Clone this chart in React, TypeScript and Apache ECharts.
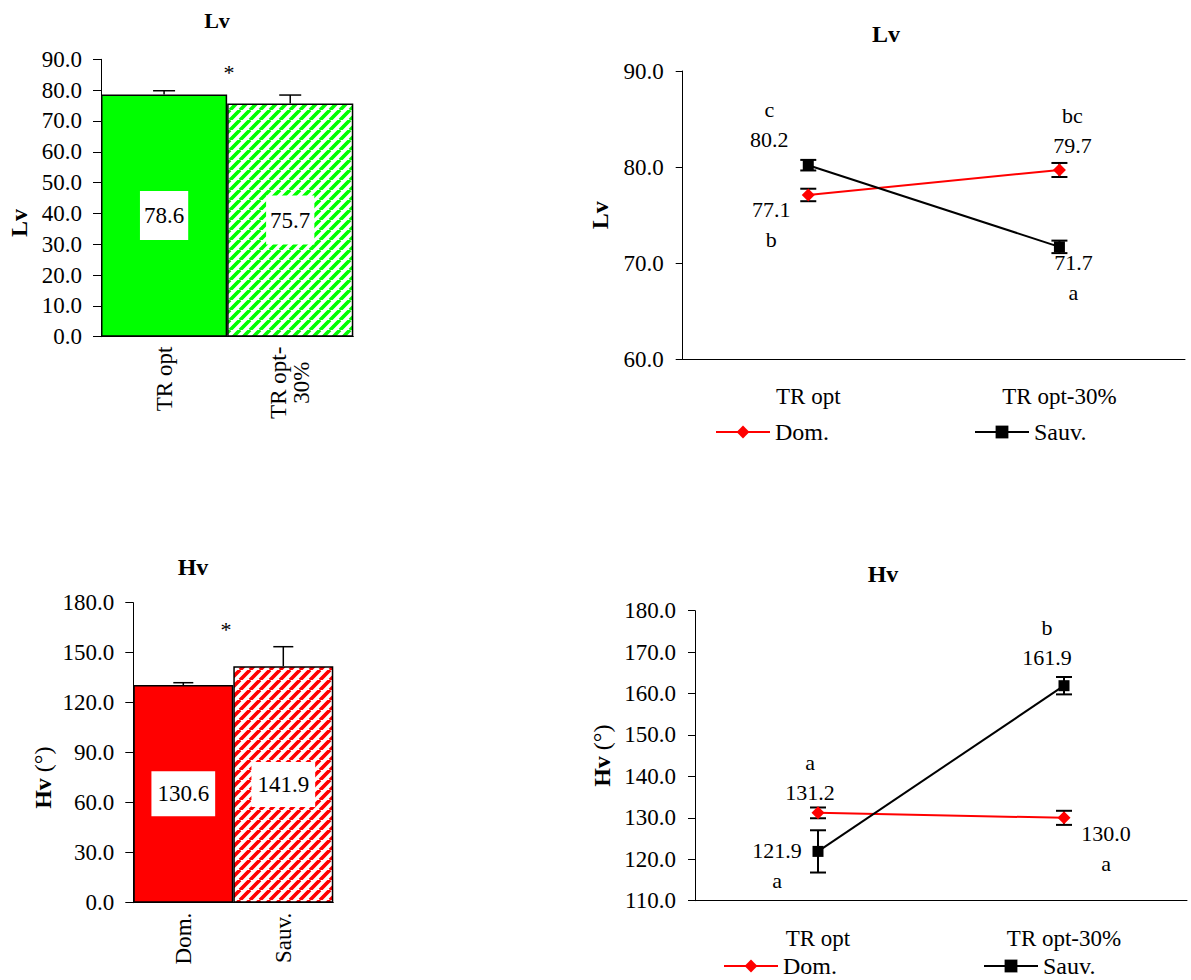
import React, { useEffect, useRef } from 'react';
import * as echarts from 'echarts';

// ---------- data ----------
const lvBarCategories = ['TR opt', 'TR opt-30%'];
const lvBarValues = [78.6, 75.7];
const lvBarErrors = [1.2, 2.7];

const hvBarCategories = ['Dom.', 'Sauv.'];
const hvBarValues = [130.6, 141.9];
const hvBarErrors = [1.4, 11.7];

const lineCategories = ['TR opt', 'TR opt-30%'];
const seriesNames = ['Dom.', 'Sauv.'];

const lvDom = [77.1, 79.7];
const lvDomErr = [0.65, 0.73];
const lvDomLetters = ['b', 'bc'];
const lvSauv = [80.2, 71.7];
const lvSauvErr = [0.55, 0.65];
const lvSauvLetters = ['c', 'a'];

const hvDom = [131.2, 130.0];
const hvDomErr = [1.3, 1.7];
const hvDomLetters = ['a', 'a'];
const hvSauv = [121.9, 161.9];
const hvSauvErr = [5.1, 2.1];
const hvSauvLetters = ['a', 'b'];

// ---------- styling ----------
const FONT = '"Liberation Serif", "Times New Roman", serif';
const GREEN = '#00ff00';
const RED = '#ff0000';

// label placement (offset from the point, letter above or below the value)
const lvDomLabel = [{ off: [-37, 30], above: false }, { off: [13, -39], above: true }];
const lvSauvLabel = [{ off: [-39, -41], above: true }, { off: [14, 31], above: false }];
const hvDomLabel = [{ off: [-8, -35], above: true }, { off: [42, 31], above: false }];
const hvSauvLabel = [{ off: [-41, 14], above: false }, { off: [-17, -43], above: true }];

// diagonal "/" stripes drawn on a small tile
function stripePattern(color: string) {
  const s = 10;
  const c = document.createElement('canvas');
  c.width = s;
  c.height = s;
  const ctx = c.getContext('2d') as CanvasRenderingContext2D;
  ctx.fillStyle = '#ffffff';
  ctx.fillRect(0, 0, s, s);
  ctx.strokeStyle = color;
  ctx.lineWidth = 3.7;
  ctx.beginPath();
  for (const o of [-s, 0, s]) {
    ctx.moveTo(o, s);
    ctx.lineTo(o + s, 0);
  }
  ctx.stroke();
  return { image: c, repeat: 'repeat' };
}

function barErrorSeries(name: string, axis: number, values: number[], errs: number[], cap: number) {
  return {
    type: 'custom',
    name,
    xAxisIndex: axis,
    yAxisIndex: axis,
    z: 5,
    silent: true,
    data: values.map((v, i) => [i, v, errs[i]]),
    renderItem: (params: any, api: any) => {
      const i = api.value(0);
      const v = api.value(1);
      const e = api.value(2);
      const base = api.coord([i, v]);
      const top = api.coord([i, v + e]);
      const hw = cap / 2;
      const st = { stroke: '#000', lineWidth: 1.5 };
      return {
        type: 'group',
        children: [
          { type: 'line', shape: { x1: top[0], y1: base[1], x2: top[0], y2: top[1] }, style: st },
          { type: 'line', shape: { x1: top[0] - hw, y1: top[1], x2: top[0] + hw, y2: top[1] }, style: st },
        ],
      };
    },
  };
}

function lineErrorSeries(name: string, axis: number, values: number[], errs: number[]) {
  return {
    type: 'custom',
    name,
    xAxisIndex: axis,
    yAxisIndex: axis,
    z: 2,
    silent: true,
    data: values.map((v, i) => [i, v, errs[i]]),
    renderItem: (params: any, api: any) => {
      const i = api.value(0);
      const v = api.value(1);
      const e = api.value(2);
      const hi = api.coord([i, v + e]);
      const lo = api.coord([i, v - e]);
      const hw = 8;
      const st = { stroke: '#000', lineWidth: 2 };
      return {
        type: 'group',
        children: [
          { type: 'line', shape: { x1: hi[0], y1: hi[1], x2: lo[0], y2: lo[1] }, style: st },
          { type: 'line', shape: { x1: hi[0] - hw, y1: hi[1], x2: hi[0] + hw, y2: hi[1] }, style: st },
          { type: 'line', shape: { x1: lo[0] - hw, y1: lo[1], x2: lo[0] + hw, y2: lo[1] }, style: st },
        ],
      };
    },
  };
}

function lineSeries(
  name: string,
  axis: number,
  values: number[],
  letters: string[],
  labels: { off: number[]; above: boolean }[],
  color: string,
  symbol: string,
  symbolSize: number
) {
  return {
    type: 'line',
    name,
    xAxisIndex: axis,
    yAxisIndex: axis,
    z: 3,
    symbol,
    symbolSize,
    lineStyle: { color, width: 2 },
    itemStyle: { color },
    data: values.map((v, i) => ({
      value: v,
      label: {
        show: true,
        position: 'inside',
        offset: labels[i].off,
        formatter: labels[i].above ? `${letters[i]}\n${v.toFixed(1)}` : `${v.toFixed(1)}\n${letters[i]}`,
      },
    })),
    label: {
      show: true,
      color: '#000',
      fontFamily: FONT,
      fontSize: 22,
      lineHeight: 30,
      align: 'center',
      verticalAlign: 'middle',
    },
  };
}

const axisLineStyle = { lineStyle: { color: '#000', width: 1 } };
const tickLabel = (size: number) => ({
  color: '#000',
  fontFamily: FONT,
  fontSize: size,
  margin: 19,
  formatter: (v: number) => v.toFixed(1),
});

export default function App() {
  const ref = useRef<HTMLDivElement>(null);

  useEffect(() => {
    document.body.style.margin = '0';
    if (!ref.current) return;
    const chart = echarts.init(ref.current, undefined, { renderer: 'svg' });
    const greenStripes = stripePattern(GREEN);
    const redStripes = stripePattern(RED);

    const option: any = {
      animation: false,
      backgroundColor: '#fff',
      title: [
        { text: 'Lv', left: 217, top: 9, textAlign: 'center', padding: 0, textStyle: { fontFamily: FONT, fontSize: 22, fontWeight: 'bold', color: '#000' } },
        { text: 'Lv', left: 886, top: 22, textAlign: 'center', padding: 0, textStyle: { fontFamily: FONT, fontSize: 24, fontWeight: 'bold', color: '#000' } },
        { text: 'Hv', left: 193, top: 555, textAlign: 'center', padding: 0, textStyle: { fontFamily: FONT, fontSize: 24, fontWeight: 'bold', color: '#000' } },
        { text: 'Hv', left: 883, top: 562, textAlign: 'center', padding: 0, textStyle: { fontFamily: FONT, fontSize: 24, fontWeight: 'bold', color: '#000' } },
      ],
      legend: [
        { data: [seriesNames[0]], left: 715, top: 420 },
        { data: [seriesNames[1]], left: 974, top: 420 },
        { data: [seriesNames[0]], left: 723, top: 954 },
        { data: [seriesNames[1]], left: 983, top: 954 },
      ].map((l) => ({
        ...l,
        padding: 0,
        itemWidth: 54,
        itemHeight: 16,
        selectedMode: false,
        textStyle: { fontFamily: FONT, fontSize: 24, color: '#000' },
      })),
      grid: [
        { left: 101, top: 59.3, width: 252.3, height: 277.4 },
        { left: 682.7, top: 71, width: 502.3, height: 288.3 },
        { left: 133.3, top: 602.7, width: 200, height: 300 },
        { left: 695, top: 610.7, width: 492, height: 290 },
      ],
      xAxis: [
        {
          type: 'category', gridIndex: 0, data: lvBarCategories,
          axisLine: axisLineStyle, axisTick: { length: 8, lineStyle: { color: '#000' } },
          axisLabel: {
            rotate: 90, margin: 10, color: '#000', fontFamily: FONT, fontSize: 23, interval: 0,
            formatter: (v: string) => (v.indexOf('-') >= 0 ? v.replace('-', '-\n') : v).split('\n').map((s) => `{c|${s}}`).join('\n'),
            rich: { c: { align: 'center', fontFamily: FONT, fontSize: 23, color: '#000' } },
          },
        },
        {
          type: 'category', gridIndex: 1, data: lineCategories,
          axisLine: axisLineStyle, axisTick: { length: 7, lineStyle: { color: '#000' } },
          axisLabel: { margin: 26, color: '#000', fontFamily: FONT, fontSize: 23, interval: 0 },
        },
        {
          type: 'category', gridIndex: 2, data: hvBarCategories,
          axisLine: axisLineStyle, axisTick: { length: 8, lineStyle: { color: '#000' } },
          axisLabel: { rotate: 90, margin: 10, color: '#000', fontFamily: FONT, fontSize: 23, interval: 0 },
        },
        {
          type: 'category', gridIndex: 3, data: lineCategories,
          axisLine: axisLineStyle, axisTick: { length: 7, lineStyle: { color: '#000' } },
          axisLabel: { margin: 26, color: '#000', fontFamily: FONT, fontSize: 23, interval: 0 },
        },
      ],
      yAxis: [
        {
          type: 'value', gridIndex: 0, min: 0, max: 90, interval: 10,
          name: 'Lv', nameLocation: 'middle', nameGap: 70,
          nameTextStyle: { fontFamily: FONT, fontSize: 24, fontWeight: 'bold', color: '#000', padding: [0, 50, 0, 0] },
          axisLine: { show: true, ...axisLineStyle }, axisTick: { show: true, length: 8, lineStyle: { color: '#000' } },
          splitLine: { show: false }, axisLabel: tickLabel(23),
        },
        {
          type: 'value', gridIndex: 1, min: 60, max: 90, interval: 10,
          name: 'Lv', nameLocation: 'middle', nameGap: 71,
          nameTextStyle: { fontFamily: FONT, fontSize: 24, fontWeight: 'bold', color: '#000' },
          axisLine: { show: true, ...axisLineStyle }, axisTick: { show: true, length: 7, lineStyle: { color: '#000' } },
          splitLine: { show: false }, axisLabel: tickLabel(23),
        },
        {
          type: 'value', gridIndex: 2, min: 0, max: 180, interval: 30,
          name: '{b|Hv} {n|(°)}', nameLocation: 'middle', nameGap: 78,
          nameTextStyle: {
            fontFamily: FONT, fontSize: 24, color: '#000', padding: [0, 50, 0, 0],
            rich: { b: { fontFamily: FONT, fontSize: 24, fontWeight: 'bold', color: '#000' }, n: { fontFamily: FONT, fontSize: 24, color: '#000' } },
          },
          axisLine: { show: true, ...axisLineStyle }, axisTick: { show: true, length: 8, lineStyle: { color: '#000' } },
          splitLine: { show: false }, axisLabel: tickLabel(23),
        },
        {
          type: 'value', gridIndex: 3, min: 110, max: 180, interval: 10,
          name: '{b|Hv} {n|(°)}', nameLocation: 'middle', nameGap: 81,
          nameTextStyle: {
            fontFamily: FONT, fontSize: 24, color: '#000',
            rich: { b: { fontFamily: FONT, fontSize: 24, fontWeight: 'bold', color: '#000' }, n: { fontFamily: FONT, fontSize: 24, color: '#000' } },
          },
          axisLine: { show: true, ...axisLineStyle }, axisTick: { show: true, length: 7, lineStyle: { color: '#000' } },
          splitLine: { show: false }, axisLabel: tickLabel(23),
        },
      ],
      graphic: [
        { type: 'text', x: 229, y: 72, style: { text: '*', font: `22px ${FONT}`, fill: '#000', textAlign: 'center', textVerticalAlign: 'middle' } },
        { type: 'text', x: 226, y: 629, style: { text: '*', font: `22px ${FONT}`, fill: '#000', textAlign: 'center', textVerticalAlign: 'middle' } },
      ],
      series: [
        {
          type: 'bar', name: 'Lv bars', xAxisIndex: 0, yAxisIndex: 0, barCategoryGap: '0%', z: 2,
          data: lvBarValues.map((v, i) => ({
            value: v,
            itemStyle: { color: i === 0 ? GREEN : greenStripes, borderColor: '#000', borderWidth: 1.5 },
          })),
          label: {
            show: true, position: 'inside', formatter: (p: any) => p.value.toFixed(1),
            backgroundColor: '#fff', padding: [13, 4], color: '#000', fontFamily: FONT, fontSize: 23,
          },
        },
        barErrorSeries('Lv bar error', 0, lvBarValues, lvBarErrors, 22),
        {
          type: 'bar', name: 'Hv bars', xAxisIndex: 2, yAxisIndex: 2, barCategoryGap: '0%', z: 2,
          data: hvBarValues.map((v, i) => ({
            value: v,
            itemStyle: { color: i === 0 ? RED : redStripes, borderColor: '#000', borderWidth: 1.5 },
          })),
          label: {
            show: true, position: 'inside', formatter: (p: any) => p.value.toFixed(1),
            backgroundColor: '#fff', padding: [11, 6], color: '#000', fontFamily: FONT, fontSize: 23,
          },
        },
        barErrorSeries('Hv bar error', 2, hvBarValues, hvBarErrors, 20),
        lineErrorSeries('Lv Dom error', 1, lvDom, lvDomErr),
        lineErrorSeries('Lv Sauv error', 1, lvSauv, lvSauvErr),
        lineSeries(seriesNames[0], 1, lvDom, lvDomLetters, lvDomLabel, RED, 'diamond', 13),
        lineSeries(seriesNames[1], 1, lvSauv, lvSauvLetters, lvSauvLabel, '#000', 'rect', 11),
        lineErrorSeries('Hv Dom error', 3, hvDom, hvDomErr),
        lineErrorSeries('Hv Sauv error', 3, hvSauv, hvSauvErr),
        lineSeries(seriesNames[0], 3, hvDom, hvDomLetters, hvDomLabel, RED, 'diamond', 13),
        lineSeries(seriesNames[1], 3, hvSauv, hvSauvLetters, hvSauvLabel, '#000', 'rect', 11),
      ],
    };

    chart.setOption(option);
    return () => chart.dispose();
  }, []);

  return <div ref={ref} style={{ width: 1191, height: 980 }} />;
}
